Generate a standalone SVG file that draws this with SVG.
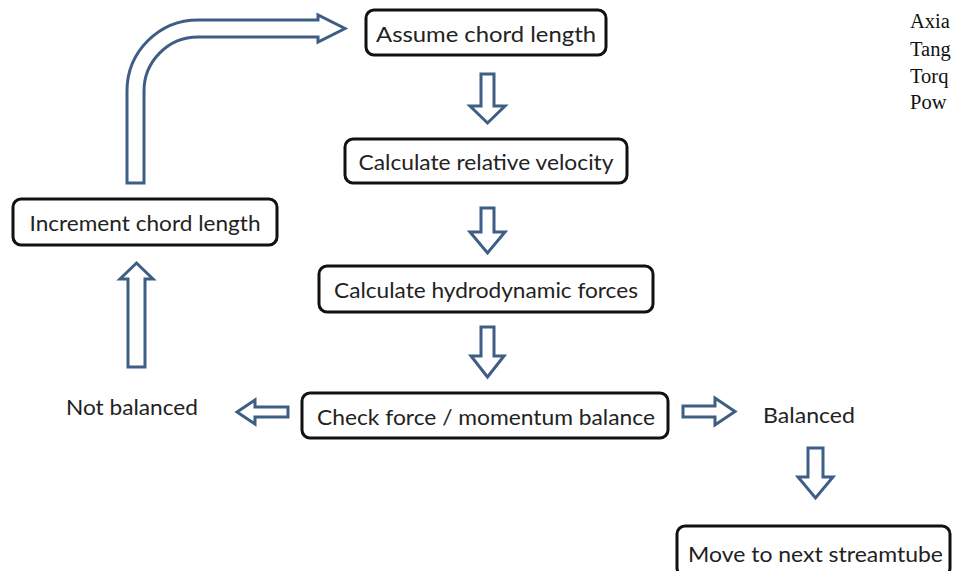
<svg xmlns="http://www.w3.org/2000/svg" width="955" height="571" viewBox="0 0 955 571">
<style>
.box{fill:#ffffff;stroke:#111111;stroke-width:3}
.lbl{font-family:Lato,"Open Sans","Liberation Sans",sans-serif;font-size:22px;fill:#222222;text-anchor:middle}
.arr{fill:#ffffff;stroke:#3f5e86;stroke-width:3;stroke-linejoin:miter}
.side{font-family:"Liberation Serif","Times New Roman",serif;font-size:20.5px;fill:#111111}
</style>
<rect width="955" height="571" fill="#ffffff"/>
<g id="connectors">
<path class="arr" d="M127,183 L127,91 A71,71 0 0 1 198,20 L318,20 L318,15 L345,28.5 L318,42 L318,37 L198,37 A54,54 0 0 0 144,91 L144,183 Z"/>
<polygon class="arr" points="481,74 494,74 494,106 505,106 487.5,123 470,106 481,106"/>
<polygon class="arr" points="481,208 494,208 494,232 505,232 487.5,253 470,232 481,232"/>
<polygon class="arr" points="481,327 494,327 494,356 504,356 487.5,377 471,356 481,356"/>
<polygon class="arr" points="808,448 823,448 823,477 833,477 815.5,498 798,477 808,477"/>
<polygon class="arr" points="128,367 145,367 145,279 153,279 136.5,263 120,279 128,279"/>
<polygon class="arr" points="288,407 288,417 255,417 255,424 237,412 255,400 255,407"/>
<polygon class="arr" points="683,406 715,406 715,398 735,411.5 715,425 715,417 683,417"/>
</g>
<g id="assume">
<rect class="box" x="366" y="10" width="240" height="45" rx="8"/>
<text class="lbl" x="486" y="41.5" textLength="220" lengthAdjust="spacingAndGlyphs">Assume chord length</text>
</g>
<g id="relvel">
<rect class="box" x="345" y="139" width="282" height="44" rx="8"/>
<text class="lbl" x="486" y="170" textLength="255" lengthAdjust="spacingAndGlyphs">Calculate relative velocity</text>
</g>
<g id="hydro">
<rect class="box" x="319" y="266" width="334" height="46" rx="8"/>
<text class="lbl" x="486" y="298" textLength="304" lengthAdjust="spacingAndGlyphs">Calculate hydrodynamic forces</text>
</g>
<g id="check">
<rect class="box" x="302" y="393" width="366" height="45" rx="8"/>
<text class="lbl" x="486" y="424.5" textLength="338" lengthAdjust="spacingAndGlyphs">Check force / momentum balance</text>
</g>
<g id="increment">
<rect class="box" x="13" y="199" width="264" height="46" rx="8"/>
<text class="lbl" x="145" y="231" textLength="231" lengthAdjust="spacingAndGlyphs">Increment chord length</text>
</g>
<g id="notbalanced">
<text class="lbl" x="132" y="415" textLength="132" lengthAdjust="spacingAndGlyphs">Not balanced</text>
</g>
<g id="balanced">
<text class="lbl" x="809" y="423" textLength="92" lengthAdjust="spacingAndGlyphs">Balanced</text>
</g>
<g id="move">
<rect class="box" x="677" y="526" width="273" height="50" rx="8"/>
<text class="lbl" x="815.5" y="562" textLength="255" lengthAdjust="spacingAndGlyphs">Move to next streamtube</text>
</g>
<g id="sidetext">
<text class="side" x="910" y="28">Axia</text>
<text class="side" x="910" y="56">Tang</text>
<text class="side" x="910" y="83">Torq</text>
<text class="side" x="910" y="109">Pow</text>
</g>
</svg>
